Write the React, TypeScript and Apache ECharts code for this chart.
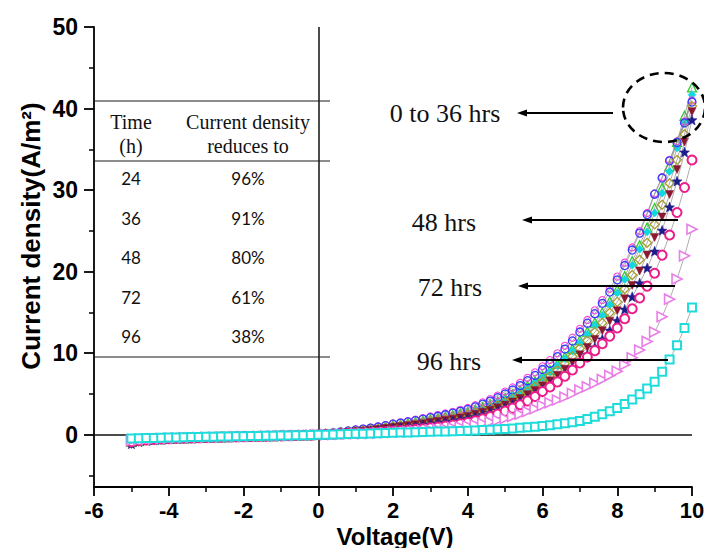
import React, { useEffect, useRef } from "react";
import * as echarts from "echarts";

// Bias voltage (V) at which the current density was recorded
const voltage = [
  -5, -4.8, -4.6, -4.4, -4.2, -4, -3.8, -3.6, -3.4, -3.2, -3, -2.8, -2.6, -2.4, -2.2, -2, -1.8, -1.6, -1.4, -1.2, -1, -0.8, -0.6, -0.4, -0.2, 0,
  0.2, 0.4, 0.6, 0.8, 1, 1.2, 1.4, 1.6, 1.8, 2, 2.2, 2.4, 2.6, 2.8, 3, 3.2, 3.4, 3.6, 3.8, 4, 4.2, 4.4, 4.6, 4.8, 5,
  5.2, 5.4, 5.6, 5.8, 6, 6.2, 6.4, 6.6, 6.8, 7, 7.2, 7.4, 7.6, 7.8, 8, 8.2, 8.4, 8.6, 8.8, 9, 9.2, 9.4, 9.6, 9.8, 10,
];

// Current density (A/m^2) after each ageing time
const j0h = [
  -0.85, -0.72, -0.63, -0.57, -0.52, -0.48, -0.45, -0.42, -0.39, -0.37, -0.34, -0.32, -0.3, -0.28, -0.26, -0.24, -0.22, -0.2, -0.18, -0.16, -0.14, -0.12, -0.1, -0.07, -0.04, 0,
  0.12, 0.2, 0.29, 0.39, 0.5, 0.59, 0.7, 0.82, 0.97, 1.15, 1.27, 1.41, 1.55, 1.72, 1.9, 2.05, 2.22, 2.4, 2.59, 2.8, 3.08, 3.38, 3.72, 4.09, 4.5,
  4.94, 5.43, 5.97, 6.55, 7.2, 7.92, 8.71, 9.58, 10.54, 11.6, 12.64, 13.77, 15.0, 16.34, 17.8, 19.46, 21.27, 23.25, 25.42, 27.8, 30.28, 32.98, 35.92, 39.12, 42.6,
];
const j6h = [
  -0.9, -0.75, -0.65, -0.58, -0.53, -0.49, -0.46, -0.43, -0.4, -0.37, -0.35, -0.33, -0.31, -0.29, -0.27, -0.25, -0.23, -0.21, -0.19, -0.17, -0.15, -0.13, -0.1, -0.08, -0.05, -0.01,
  0.12, 0.2, 0.29, 0.39, 0.5, 0.59, 0.69, 0.8, 0.94, 1.1, 1.22, 1.35, 1.5, 1.67, 1.85, 2.0, 2.15, 2.32, 2.5, 2.7, 2.97, 3.27, 3.59, 3.95, 4.35,
  4.78, 5.26, 5.79, 6.37, 7.0, 7.7, 8.48, 9.33, 10.27, 11.3, 12.32, 13.43, 14.64, 15.96, 17.4, 19.03, 20.8, 22.75, 24.87, 27.2, 29.63, 32.27, 35.15, 38.28, 41.7,
];
const j12h = [
  -0.8, -0.7, -0.62, -0.56, -0.51, -0.47, -0.44, -0.41, -0.38, -0.36, -0.34, -0.32, -0.3, -0.28, -0.26, -0.24, -0.22, -0.2, -0.18, -0.16, -0.14, -0.12, -0.09, -0.06, -0.03, 0.01,
  0.18, 0.27, 0.38, 0.5, 0.65, 0.76, 0.88, 1.03, 1.2, 1.4, 1.54, 1.69, 1.86, 2.05, 2.25, 2.43, 2.62, 2.83, 3.06, 3.3, 3.63, 3.99, 4.38, 4.82, 5.3,
  5.81, 6.37, 6.99, 7.66, 8.4, 9.17, 10.0, 10.92, 11.91, 13.0, 14.08, 15.26, 16.53, 17.91, 19.4, 21.11, 22.97, 24.99, 27.2, 29.6, 31.59, 33.72, 35.99, 38.41, 41.0,
];
const j18h = [
  -0.88, -0.74, -0.64, -0.58, -0.53, -0.49, -0.45, -0.42, -0.39, -0.37, -0.35, -0.33, -0.31, -0.29, -0.27, -0.25, -0.23, -0.21, -0.19, -0.17, -0.15, -0.13, -0.1, -0.07, -0.04, 0,
  0.15, 0.24, 0.34, 0.46, 0.6, 0.7, 0.82, 0.95, 1.11, 1.3, 1.43, 1.57, 1.73, 1.91, 2.1, 2.27, 2.45, 2.65, 2.87, 3.1, 3.41, 3.75, 4.13, 4.54, 5.0,
  5.49, 6.03, 6.63, 7.28, 8.0, 8.76, 9.59, 10.51, 11.5, 12.6, 13.68, 14.85, 16.12, 17.5, 19.0, 20.75, 22.65, 24.73, 27.0, 29.5, 31.48, 33.59, 35.84, 38.24, 40.8,
];
const j24h = [
  -0.95, -0.78, -0.68, -0.6, -0.55, -0.5, -0.46, -0.43, -0.4, -0.38, -0.35, -0.33, -0.31, -0.29, -0.27, -0.25, -0.23, -0.21, -0.19, -0.17, -0.15, -0.13, -0.11, -0.08, -0.05, -0.01,
  0.1, 0.17, 0.25, 0.34, 0.45, 0.53, 0.62, 0.73, 0.85, 1.0, 1.11, 1.24, 1.37, 1.53, 1.7, 1.84, 1.98, 2.14, 2.31, 2.5, 2.75, 3.02, 3.31, 3.64, 4.0,
  4.41, 4.86, 5.35, 5.9, 6.5, 7.17, 7.9, 8.71, 9.61, 10.6, 11.55, 12.59, 13.72, 14.96, 16.3, 17.87, 19.59, 21.47, 23.54, 25.8, 28.21, 30.84, 33.71, 36.86, 40.3,
];
const j30h = [
  -1.2, -0.9, -0.75, -0.66, -0.59, -0.54, -0.5, -0.46, -0.43, -0.4, -0.38, -0.35, -0.33, -0.31, -0.29, -0.27, -0.25, -0.23, -0.21, -0.19, -0.17, -0.14, -0.12, -0.09, -0.06, -0.02,
  0.07, 0.13, 0.2, 0.28, 0.38, 0.45, 0.54, 0.64, 0.76, 0.9, 1.0, 1.1, 1.22, 1.35, 1.5, 1.63, 1.76, 1.91, 2.07, 2.25, 2.48, 2.73, 3.01, 3.31, 3.65,
  4.03, 4.45, 4.92, 5.43, 6.0, 6.62, 7.3, 8.05, 8.88, 9.8, 10.7, 11.68, 12.75, 13.92, 15.2, 16.68, 18.31, 20.09, 22.05, 24.2, 26.7, 29.47, 32.52, 35.89, 39.6,
];
const j36h = [
  -1.1, -0.85, -0.72, -0.64, -0.58, -0.53, -0.49, -0.46, -0.43, -0.4, -0.37, -0.35, -0.33, -0.31, -0.29, -0.27, -0.25, -0.23, -0.21, -0.19, -0.17, -0.15, -0.12, -0.09, -0.06, -0.02,
  0.05, 0.1, 0.16, 0.23, 0.3, 0.37, 0.44, 0.54, 0.66, 0.8, 0.88, 0.97, 1.07, 1.18, 1.3, 1.42, 1.54, 1.68, 1.83, 2.0, 2.21, 2.44, 2.7, 2.99, 3.3,
  3.66, 4.05, 4.48, 4.97, 5.5, 6.07, 6.7, 7.39, 8.16, 9.0, 9.83, 10.74, 11.73, 12.81, 14.0, 15.39, 16.92, 18.61, 20.46, 22.5, 25.06, 27.92, 31.1, 34.65, 38.6,
];
const j48h = [
  -0.85, -0.72, -0.63, -0.57, -0.52, -0.48, -0.44, -0.41, -0.38, -0.36, -0.33, -0.31, -0.29, -0.27, -0.25, -0.23, -0.21, -0.19, -0.17, -0.15, -0.13, -0.11, -0.09, -0.06, -0.04, 0,
  0.03, 0.06, 0.1, 0.14, 0.18, 0.22, 0.26, 0.31, 0.37, 0.45, 0.51, 0.58, 0.66, 0.75, 0.85, 0.95, 1.07, 1.2, 1.34, 1.5, 1.71, 1.95, 2.23, 2.54, 2.9,
  3.27, 3.69, 4.16, 4.7, 5.3, 5.87, 6.49, 7.18, 7.95, 8.8, 9.53, 10.32, 11.17, 12.1, 13.1, 14.23, 15.45, 16.78, 18.23, 19.8, 22.03, 24.5, 27.26, 30.32, 33.7,
];
const j72h = [
  -0.7, -0.62, -0.56, -0.51, -0.47, -0.44, -0.41, -0.38, -0.36, -0.34, -0.32, -0.3, -0.28, -0.26, -0.24, -0.22, -0.2, -0.18, -0.16, -0.14, -0.12, -0.1, -0.08, -0.06, -0.03, 0,
  0.02, 0.04, 0.06, 0.09, 0.12, 0.14, 0.17, 0.21, 0.25, 0.3, 0.34, 0.39, 0.45, 0.51, 0.58, 0.66, 0.75, 0.85, 0.97, 1.1, 1.24, 1.4, 1.58, 1.77, 2.0,
  2.25, 2.53, 2.85, 3.2, 3.6, 3.92, 4.26, 4.64, 5.05, 5.5, 5.9, 6.32, 6.78, 7.27, 7.8, 8.58, 9.45, 10.4, 11.45, 12.6, 14.47, 16.63, 19.1, 21.94, 25.2,
];
const j96h = [
  -0.45, -0.42, -0.4, -0.38, -0.36, -0.34, -0.32, -0.3, -0.28, -0.27, -0.25, -0.24, -0.22, -0.21, -0.19, -0.18, -0.16, -0.15, -0.13, -0.12, -0.1, -0.08, -0.07, -0.05, -0.03, 0,
  0.02, 0.04, 0.07, 0.09, 0.12, 0.14, 0.17, 0.19, 0.22, 0.25, 0.27, 0.29, 0.32, 0.34, 0.37, 0.39, 0.42, 0.44, 0.47, 0.5, 0.54, 0.58, 0.62, 0.67, 0.72,
  0.78, 0.85, 0.92, 1.0, 1.08, 1.18, 1.3, 1.42, 1.55, 1.7, 1.94, 2.22, 2.53, 2.89, 3.3, 3.78, 4.33, 4.96, 5.68, 6.5, 7.74, 9.23, 10.99, 13.09, 15.6,
];

// Axis ticks
const xMin = -6;
const xMax = 10;
const yMin = -6.4;
const yMax = 50;
const yMajorTicks = [0, 10, 20, 30, 40, 50];
const yMinorTicks = [-5, 5, 15, 25, 35, 45];

// Inset table
const tableHours = ["24", "36", "48", "72", "96"];
const tableRetention = ["96%", "91%", "80%", "61%", "38%"];

// Callouts
const calloutLabels = ["0 to 36 hrs", "48 hrs", "72 hrs", "96 hrs"];

const STAR =
  "path://M12 1 L15 8.6 L23 9 L16.8 14 L19 22 L12 17.5 L5 22 L7.2 14 L1 9 L9 8.6 Z";

type Mark = {
  name: string;
  values: number[];
  symbol: string;
  size: number;
  fill: string;
  stroke: string;
  bw: number;
  rotate?: number;
};

const marks: Mark[] = [
  { name: "0 h", values: j0h, symbol: "triangle", size: 9, fill: "rgba(0,0,0,0)", stroke: "#2ecc2e", bw: 1.3 },
  { name: "6 h", values: j6h, symbol: "diamond", size: 8, fill: "#12d6e0", stroke: "#12d6e0", bw: 0.5 },
  { name: "12 h", values: j12h, symbol: "circle", size: 7, fill: "rgba(0,0,0,0)", stroke: "#ff3fd8", bw: 1.1 },
  { name: "18 h", values: j18h, symbol: "circle", size: 8, fill: "rgba(0,0,0,0)", stroke: "#3a3aff", bw: 1.3 },
  { name: "24 h", values: j24h, symbol: "diamond", size: 9, fill: "rgba(0,0,0,0)", stroke: "#a89c2c", bw: 1.3 },
  { name: "30 h", values: j30h, symbol: "triangle", size: 8, fill: "#8a1830", stroke: "#8a1830", bw: 0.5, rotate: 180 },
  { name: "36 h", values: j36h, symbol: STAR, size: 10, fill: "#1c1c8c", stroke: "#1c1c8c", bw: 0.5 },
  { name: "48 h", values: j48h, symbol: "circle", size: 9, fill: "#ffffff", stroke: "#ec1c8a", bw: 2 },
  { name: "72 h", values: j72h, symbol: "triangle", size: 10, fill: "#ffffff", stroke: "#e87ee6", bw: 1.6, rotate: -90 },
  { name: "96 h", values: j96h, symbol: "rect", size: 8, fill: "#ffffff", stroke: "#1fdcdc", bw: 2 },
];

const SANS = "'Liberation Sans', Arial, sans-serif";
const SERIF = "'Liberation Serif', 'Times New Roman', serif";
const TABLE_SANS = "Lato, 'Open Sans', sans-serif";

export default function App() {
  const ref = useRef<HTMLDivElement>(null);

  useEffect(() => {
    if (!ref.current) return;
    const chart = echarts.init(ref.current, null, { renderer: "svg" });

    const series: any[] = marks.map((m, k) => ({
      type: "line",
      name: m.name,
      data: voltage.map((v, i) => [v, m.values[i]]),
      symbol: m.symbol,
      symbolSize: m.size,
      symbolRotate: m.rotate ?? 0,
      showSymbol: true,
      lineStyle: { color: "#8a8a8a", width: 0.7 },
      itemStyle: { color: m.fill, borderColor: m.stroke, borderWidth: m.bw },
      emphasis: { disabled: true },
      silent: true,
      z: 2 + k,
      markLine:
        k === 0
          ? {
              silent: true,
              symbol: ["none", "none"],
              label: { show: false },
              emphasis: { disabled: true },
              lineStyle: { color: "#111", width: 1.5, type: "solid" },
              data: [{ xAxis: 0 }, { yAxis: 0 }],
            }
          : undefined,
    }));

    // Table rules and cells (pixel layout)
    const tableLeft = 94;
    const tableRight = 330;
    const ruleYs = [101, 161, 357];
    const rowYs = [178, 218, 257, 297, 336];
    const colHour = 131;
    const colRet = 248;

    const graphic: any[] = [];
    ruleYs.forEach((y) =>
      graphic.push({
        type: "line",
        silent: true,
        z: 50,
        shape: { x1: tableLeft, y1: y, x2: tableRight, y2: y },
        style: { stroke: "#1a1a1a", lineWidth: 1.2 },
      })
    );
    const headText = (text: string, x: number, y: number) => ({
      type: "text",
      silent: true,
      z: 50,
      x,
      y,
      style: {
        text,
        font: `20px ${SERIF}`,
        fill: "#111",
        textAlign: "center",
        textVerticalAlign: "middle",
      },
    });
    graphic.push(headText("Time", colHour, 122));
    graphic.push(headText("(h)", colHour, 146));
    graphic.push(headText("Current density", colRet, 122));
    graphic.push(headText("reduces to", colRet, 146));
    tableHours.forEach((h, i) => {
      graphic.push({
        type: "text",
        silent: true,
        z: 50,
        x: colHour,
        y: rowYs[i],
        style: { text: h, font: `17px ${TABLE_SANS}`, fill: "#111", textAlign: "center", textVerticalAlign: "middle" },
      });
      graphic.push({
        type: "text",
        silent: true,
        z: 50,
        x: colRet,
        y: rowYs[i],
        style: { text: tableRetention[i], font: `17px ${TABLE_SANS}`, fill: "#111", textAlign: "center", textVerticalAlign: "middle" },
      });
    });

    // Callout labels with arrows
    const calloutPos = [
      { x: 445, y: 113, ay: 113, from: 613, to: 517 },
      { x: 444, y: 222, ay: 220, from: 678, to: 522 },
      { x: 450, y: 287, ay: 286, from: 675, to: 518 },
      { x: 449, y: 361, ay: 360, from: 668, to: 512 },
    ];
    calloutLabels.forEach((t, i) => {
      const p = calloutPos[i];
      graphic.push({
        type: "text",
        silent: true,
        z: 60,
        x: p.x,
        y: p.y,
        style: { text: t, font: `26px ${SERIF}`, fill: "#111", textAlign: "center", textVerticalAlign: "middle" },
      });
      graphic.push({
        type: "line",
        silent: true,
        z: 60,
        shape: { x1: p.from, y1: p.ay, x2: p.to + 7, y2: p.ay },
        style: { stroke: "#000", lineWidth: 2 },
      });
      graphic.push({
        type: "polygon",
        silent: true,
        z: 60,
        shape: {
          points: [
            [p.to, p.ay],
            [p.to + 10, p.ay - 3.5],
            [p.to + 10, p.ay + 3.5],
          ],
        },
        style: { fill: "#000" },
      });
    });

    // Dashed ring around the 0-36 h end points
    graphic.push({
      type: "ellipse",
      silent: true,
      z: 60,
      shape: { cx: 664, cy: 107.5, rx: 41, ry: 34.5 },
      style: { fill: "none", stroke: "#000", lineWidth: 2.6, lineDash: [9, 6] },
    });

    // Axis titles
    graphic.push({
      type: "text",
      silent: true,
      z: 60,
      x: 31,
      y: 236,
      rotation: Math.PI / 2,
      style: {
        text: "Current density(A/m²)",
        font: `bold 26px ${SANS}`,
        fill: "#000",
        textAlign: "center",
        textVerticalAlign: "middle",
      },
    });
    graphic.push({
      type: "text",
      silent: true,
      z: 60,
      x: 395,
      y: 536,
      style: {
        text: "Voltage(V)",
        font: `bold 24px ${SANS}`,
        fill: "#000",
        textAlign: "center",
        textVerticalAlign: "middle",
      },
    });

    const axisLabelStyle = {
      color: "#000",
      fontFamily: SANS,
      fontWeight: "bold" as const,
      fontSize: 22,
    };

    const option: any = {
      animation: false,
      backgroundColor: "#ffffff",
      grid: { left: 94, right: 12, top: 27, bottom: 61, containLabel: false, outerBoundsMode: "none" },
      xAxis: {
        type: "value",
        min: xMin,
        max: xMax,
        interval: 2,
        axisLine: { show: true, onZero: false, lineStyle: { color: "#000", width: 1.8 } },
        axisTick: { show: true, length: 9, lineStyle: { color: "#000", width: 1.8 } },
        minorTick: { show: true, splitNumber: 2, length: 5, lineStyle: { color: "#000", width: 1.5 } },
        axisLabel: { ...axisLabelStyle, margin: 12 },
        splitLine: { show: false },
        minorSplitLine: { show: false },
      },
      yAxis: [
        {
          type: "value",
          min: yMin,
          max: yMax,
          position: "left",
          axisLine: { show: true, onZero: false, lineStyle: { color: "#000", width: 1.8 } },
          axisTick: { show: true, length: 10, customValues: yMajorTicks, lineStyle: { color: "#000", width: 1.8 } },
          axisLabel: { ...axisLabelStyle, fontSize: 23, margin: 16, customValues: yMajorTicks },
          splitLine: { show: false },
        },
        {
          type: "value",
          min: yMin,
          max: yMax,
          position: "left",
          offset: 0,
          axisLine: { show: false, onZero: false },
          axisTick: { show: true, length: 5, customValues: yMinorTicks, lineStyle: { color: "#000", width: 1.5 } },
          axisLabel: { show: false },
          splitLine: { show: false },
        },
      ],
      series,
      graphic,
    };

    chart.setOption(option);
    return () => chart.dispose();
  }, []);

  return (
    <div
      ref={ref}
      style={{ position: "fixed", left: 0, top: 0, width: 704, height: 548, background: "#fff" }}
    />
  );
}
